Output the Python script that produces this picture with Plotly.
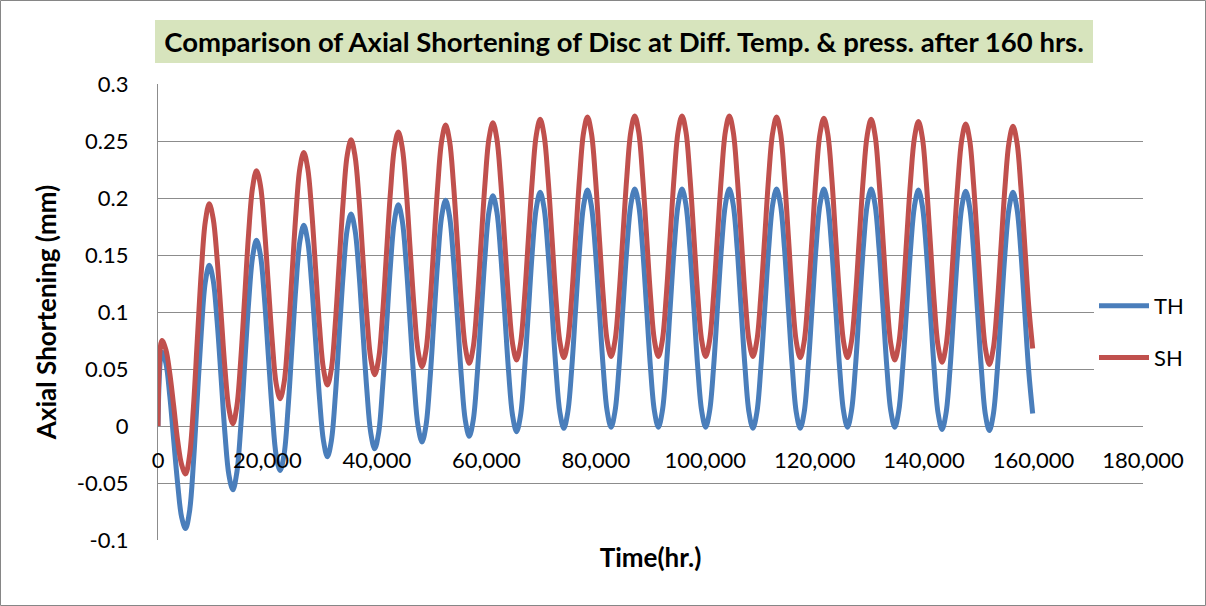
import plotly.graph_objects as go

# Sampling interval of the simulation output (hours)
TIME_STEP_HR = 720
hours = list(range(0, 160000, TIME_STEP_HR))

# Axial shortening (mm), thermal-only case
th_mm = [
    0.000,
    0.065, 0.055, 0.026, -0.013, -0.051, -0.080, -0.090, -0.075, -0.032, 0.026, 0.083, 0.126,
    0.141, 0.128, 0.092, 0.043, -0.007, -0.043, -0.056, -0.041, -0.001, 0.054, 0.108, 0.148,
    0.163, 0.150, 0.113, 0.062, 0.012, -0.026, -0.039, -0.025, 0.015, 0.069, 0.122, 0.162,
    0.176, 0.162, 0.125, 0.075, 0.024, -0.013, -0.027, -0.013, 0.026, 0.080, 0.133, 0.172,
    0.186, 0.172, 0.135, 0.083, 0.032, -0.006, -0.020, -0.006, 0.034, 0.087, 0.141, 0.180,
    0.194, 0.180, 0.142, 0.090, 0.038, 0.000, -0.014, 0.000, 0.039, 0.092, 0.145, 0.184,
    0.198, 0.184, 0.146, 0.095, 0.043, 0.005, -0.009, 0.005, 0.044, 0.097, 0.149, 0.188,
    0.202, 0.188, 0.150, 0.099, 0.047, 0.009, -0.005, 0.009, 0.048, 0.100, 0.153, 0.191,
    0.205, 0.191, 0.153, 0.102, 0.050, 0.012, -0.002, 0.012, 0.050, 0.103, 0.155, 0.193,
    0.207, 0.193, 0.155, 0.103, 0.051, 0.013, -0.001, 0.013, 0.051, 0.104, 0.156, 0.194,
    0.208, 0.194, 0.156, 0.104, 0.051, 0.013, -0.001, 0.013, 0.051, 0.104, 0.156, 0.194,
    0.208, 0.194, 0.156, 0.104, 0.051, 0.013, -0.001, 0.013, 0.051, 0.104, 0.156, 0.194,
    0.208, 0.194, 0.156, 0.103, 0.051, 0.012, -0.002, 0.012, 0.051, 0.103, 0.156, 0.194,
    0.208, 0.194, 0.156, 0.103, 0.051, 0.012, -0.002, 0.012, 0.051, 0.103, 0.156, 0.194,
    0.208, 0.194, 0.156, 0.104, 0.051, 0.013, -0.001, 0.013, 0.051, 0.104, 0.156, 0.194,
    0.208, 0.194, 0.156, 0.104, 0.051, 0.013, -0.001, 0.013, 0.051, 0.103, 0.155, 0.193,
    0.207, 0.193, 0.155, 0.102, 0.050, 0.011, -0.003, 0.011, 0.049, 0.102, 0.154, 0.192,
    0.206, 0.192, 0.154, 0.101, 0.049, 0.010, -0.004, 0.010, 0.048, 0.101, 0.153, 0.191,
    0.205, 0.191, 0.153, 0.100, 0.048, 0.011,
]

# Axial shortening (mm), thermal + pressure case
sh_mm = [
    0.000,
    0.075, 0.067, 0.046, 0.017, -0.013, -0.034, -0.042, -0.026, 0.017, 0.077, 0.136, 0.179,
    0.195, 0.182, 0.147, 0.099, 0.050, 0.015, 0.002, 0.017, 0.058, 0.113, 0.169, 0.209,
    0.224, 0.211, 0.174, 0.124, 0.074, 0.037, 0.024, 0.038, 0.078, 0.132, 0.186, 0.226,
    0.240, 0.226, 0.189, 0.138, 0.087, 0.050, 0.036, 0.050, 0.090, 0.144, 0.197, 0.237,
    0.251, 0.237, 0.200, 0.148, 0.097, 0.059, 0.045, 0.059, 0.098, 0.152, 0.205, 0.244,
    0.258, 0.244, 0.207, 0.155, 0.104, 0.066, 0.052, 0.066, 0.105, 0.158, 0.211, 0.250,
    0.264, 0.250, 0.212, 0.160, 0.107, 0.069, 0.055, 0.069, 0.108, 0.161, 0.213, 0.252,
    0.266, 0.252, 0.214, 0.162, 0.110, 0.072, 0.058, 0.072, 0.111, 0.164, 0.216, 0.255,
    0.269, 0.255, 0.217, 0.165, 0.112, 0.074, 0.060, 0.074, 0.113, 0.166, 0.218, 0.257,
    0.271, 0.257, 0.219, 0.166, 0.114, 0.075, 0.061, 0.075, 0.114, 0.167, 0.219, 0.258,
    0.272, 0.258, 0.219, 0.167, 0.114, 0.075, 0.061, 0.075, 0.114, 0.167, 0.219, 0.258,
    0.272, 0.258, 0.219, 0.167, 0.114, 0.075, 0.061, 0.075, 0.114, 0.167, 0.219, 0.258,
    0.272, 0.258, 0.219, 0.167, 0.114, 0.075, 0.061, 0.075, 0.114, 0.166, 0.219, 0.257,
    0.271, 0.257, 0.218, 0.166, 0.113, 0.074, 0.060, 0.074, 0.113, 0.165, 0.218, 0.256,
    0.270, 0.256, 0.218, 0.165, 0.113, 0.074, 0.060, 0.074, 0.112, 0.165, 0.217, 0.255,
    0.269, 0.255, 0.216, 0.164, 0.111, 0.072, 0.058, 0.072, 0.110, 0.163, 0.215, 0.253,
    0.267, 0.253, 0.214, 0.162, 0.109, 0.070, 0.056, 0.070, 0.108, 0.161, 0.213, 0.251,
    0.265, 0.251, 0.212, 0.160, 0.107, 0.068, 0.054, 0.068, 0.106, 0.159, 0.211, 0.249,
    0.263, 0.249, 0.210, 0.158, 0.105, 0.068,
]

x_ticks = list(range(0, 180001, 20000))
y_ticks = [-0.1, -0.05, 0, 0.05, 0.1, 0.15, 0.2, 0.25, 0.3]
y_tick_text = ["-0.1", "-0.05", "0", "0.05", "0.1", "0.15", "0.2", "0.25", "0.3"]

FONT = "Lato, 'Open Sans', sans-serif"
GRID = "#8c8c8c"

fig = go.Figure()
fig.add_trace(go.Scatter(
    x=hours, y=th_mm, name="TH", mode="lines", legendgroup="th",
    line=dict(color="#4a7ebb", width=5, shape="spline", smoothing=1.0),
))
fig.add_trace(go.Scatter(
    x=hours, y=sh_mm, name="SH", mode="lines", legendgroup="sh",
    line=dict(color="#c0504d", width=5, shape="spline", smoothing=1.0),
))

# plot area: 985 x 456 px
L, R, T, B = 158, 63, 84, 66
W, H = 1206, 606
pw, ph = W - L - R, H - T - B

def px_x(x):
    return (x - L) / pw

def px_y(y):
    return (H - B - y) / ph

fig.update_layout(
    width=W, height=H,
    margin=dict(l=L, r=R, t=T, b=B),
    paper_bgcolor="white", plot_bgcolor="white",
    font=dict(family=FONT, size=22, color="black"),
    title=dict(
        text="Comparison of Axial Shortening of Disc at Diff. Temp. & press. after 160 hrs.",
        font=dict(family=FONT, size=27.5, color="black", weight="bold"),
        xref="paper", x=px_x(624), xanchor="center",
        yref="container", y=1 - 42 / H, yanchor="middle",
    ),
    xaxis=dict(
        range=[0, 180000], tickvals=x_ticks, tickformat=",d",
        showgrid=False, zeroline=False, showline=False, ticks="",
        anchor="free", position=0.25, ticklabelstandoff=19,
        tickfont=dict(size=22),
        title=dict(text="Time(hr.)", font=dict(size=26, weight="bold"), standoff=76),
    ),
    yaxis=dict(
        range=[-0.1, 0.3], tickvals=y_ticks, ticktext=y_tick_text,
        showgrid=True, gridcolor=GRID, gridwidth=1.3, zeroline=False,
        showline=True, linecolor=GRID, linewidth=1.3, ticks="",
        ticklabelstandoff=24, tickfont=dict(size=22),
        title=dict(text="Axial Shortening (mm)", font=dict(size=26, weight="bold"), standoff=12),
    ),
    legend=dict(
        x=px_x(1094), y=px_y(332), xanchor="left", yanchor="middle",
        bgcolor="white", font=dict(size=22), traceorder="grouped",
        tracegroupgap=20, itemwidth=50,
    ),
    showlegend=True,
    shapes=[
        # title banner
        dict(type="rect", xref="paper", yref="paper", layer="below",
             x0=px_x(155), x1=px_x(1093), y0=px_y(63), y1=px_y(20),
             fillcolor="#d7e4bd", line=dict(width=0)),
        # chart border
        dict(type="rect", xref="paper", yref="paper", layer="above",
             x0=px_x(0.5), x1=px_x(W - 0.5), y0=px_y(H - 0.5), y1=px_y(0.5),
             line=dict(color="#868686", width=1)),
    ],
)

fig.write_html("out.html")
